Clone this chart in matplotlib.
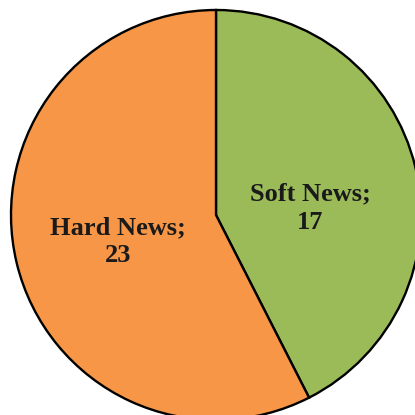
import matplotlib
matplotlib.use("Agg")
import matplotlib.pyplot as plt

labels = ["Soft News", "Hard News"]
values = [17, 23]
colors = ["#9BBB59", "#F79646"]

# label centres, in units of the radius
label_pos = [(0.46, 0.035), (-0.48, -0.13)]

fig = plt.figure(figsize=(4.15, 4.15), dpi=100)
ax = fig.add_axes([0, 0, 1, 1])
wedges, _ = ax.pie(values, colors=colors, startangle=90, counterclock=False,
                   radius=1, wedgeprops=dict(edgecolor="black", linewidth=1.7))
for lab, val, (x, y) in zip(labels, values, label_pos):
    ax.text(x, y, "%s;\n%d" % (lab, val), ha="center", va="center",
            family="Liberation Serif", fontweight="bold", fontsize=19,
            color="#1a1a1a", linespacing=1.3)

ax.set_xlim(-216 / 205, (415 - 216) / 205)
ax.set_ylim(-(415 - 215) / 205, 215 / 205)
ax.set_aspect("equal")
ax.axis("off")
fig.savefig("out.png", dpi=100, facecolor="white")
